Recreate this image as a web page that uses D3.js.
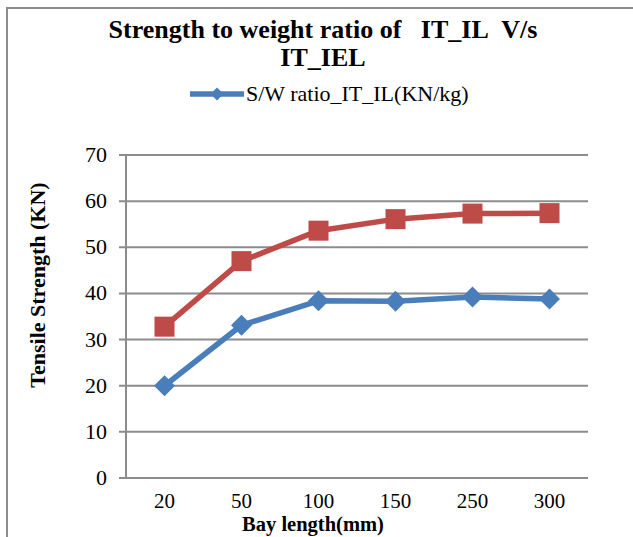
<!DOCTYPE html>
<html><head><meta charset="utf-8">
<script src="https://cdn.jsdelivr.net/npm/d3@7"></script>
<style>html,body{margin:0;padding:0;background:#fff;}svg{display:block;}</style>
</head><body>
<svg id="chart" width="633" height="537"></svg>
<script>
const categories = ["20", "50", "100", "150", "250", "300"];
const seriesIL = [20, 33.1, 38.4, 38.3, 39.2, 38.8];
const seriesIEL = [32.8, 47.0, 53.6, 56.1, 57.3, 57.4];
const yTicks = [0, 10, 20, 30, 40, 50, 60, 70];
const titleLines = ["Strength to weight ratio of\u00a0\u00a0 IT_IL\u00a0 V/s", "IT_IEL"];
const legendLabel = "S/W ratio_IT_IL(KN/kg)";
const xTitle = "Bay length(mm)";
const yTitle = "Tensile Strength (KN)";

(function () {
const svg = d3.select("#chart");
const font = "'Liberation Serif', 'DejaVu Serif', serif";
const blue = "#4a7ebb", red = "#be4b48", grid = "#8c8c8c";

svg.append("path").attr("d", "M7,540 L7,8 L640,8").attr("fill", "none")
  .attr("stroke", grid).attr("stroke-width", 2);

const pL = 126, pR = 588, pT = 155, pB = 478;
const x = d3.scaleBand().domain(categories).range([pL, pR]);
const y = d3.scaleLinear().domain([0, 70]).range([pB, pT]);
const cx = c => x(c) + x.bandwidth() / 2;

svg.append("g").selectAll("line").data(yTicks).join("line")
  .attr("x1", pL - 7).attr("x2", pR)
  .attr("y1", d => y(d)).attr("y2", d => y(d))
  .attr("stroke", grid).attr("stroke-width", 2);
svg.append("line").attr("x1", pL).attr("x2", pL).attr("y1", pT).attr("y2", pB)
  .attr("stroke", grid).attr("stroke-width", 2);

svg.append("g").selectAll("text").data(yTicks).join("text")
  .attr("x", 107).attr("y", d => y(d) + 7)
  .attr("text-anchor", "end").attr("font-family", font).attr("font-size", 22)
  .attr("fill", "#000").text(d => d);

svg.append("g").selectAll("text").data(categories).join("text")
  .attr("x", d => cx(d)).attr("y", 508)
  .attr("text-anchor", "middle").attr("font-family", font).attr("font-size", 21)
  .attr("fill", "#000").text(d => d);

svg.append("g").selectAll("text").data(titleLines).join("text")
  .attr("x", 323).attr("y", (d, i) => 38 + i * 28)
  .attr("text-anchor", "middle").attr("font-family", font).attr("font-weight", "bold")
  .attr("font-size", 26).attr("fill", "#000").text(d => d);

svg.append("text").attr("x", 313).attr("y", 531).attr("text-anchor", "middle")
  .attr("font-family", font).attr("font-weight", "bold").attr("font-size", 20.5)
  .attr("fill", "#000").text(xTitle);

svg.append("text").attr("transform", "translate(45,285) rotate(-90)")
  .attr("text-anchor", "middle").attr("font-family", font).attr("font-weight", "bold")
  .attr("font-size", 22).attr("fill", "#000").text(yTitle);

const line = d3.line().x((d, i) => cx(categories[i])).y(d => y(d));
svg.append("path").datum(seriesIEL).attr("d", line).attr("fill", "none")
  .attr("stroke", red).attr("stroke-width", 5.5).attr("stroke-linejoin", "round");
svg.append("path").datum(seriesIL).attr("d", line).attr("fill", "none")
  .attr("stroke", blue).attr("stroke-width", 5.5).attr("stroke-linejoin", "round");

svg.append("g").selectAll("rect").data(seriesIEL).join("rect")
  .attr("x", (d, i) => cx(categories[i]) - 10)
  .attr("y", d => y(d) - 10).attr("width", 20).attr("height", 20).attr("fill", red);
const diamond = "M0,-10.5 L10.5,0 L0,10.5 L-10.5,0 Z";
svg.append("g").selectAll("path").data(seriesIL).join("path")
  .attr("transform", (d, i) => `translate(${cx(categories[i])},${y(d)})`)
  .attr("d", diamond).attr("fill", blue);

svg.append("line").attr("x1", 190).attr("x2", 244).attr("y1", 94).attr("y2", 94)
  .attr("stroke", blue).attr("stroke-width", 5.5);
svg.append("path").attr("transform", "translate(217,94)").attr("d", "M0,-6.5 L6.5,0 L0,6.5 L-6.5,0 Z").attr("fill", blue);
svg.append("text").attr("x", 246).attr("y", 101).attr("font-family", font).attr("font-size", 22)
  .attr("fill", "#000").text(legendLabel);
})();
</script>
</body></html>
